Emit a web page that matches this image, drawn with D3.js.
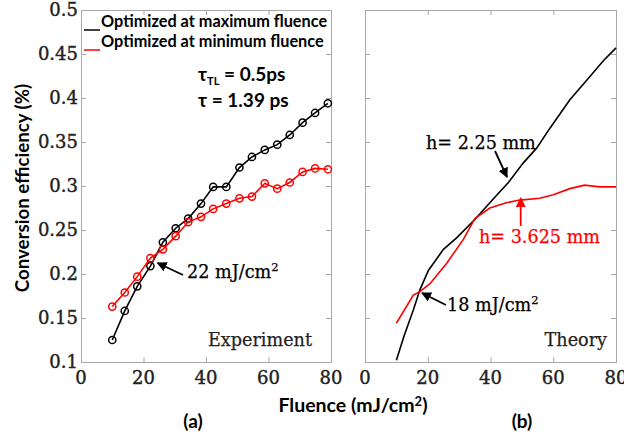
<!DOCTYPE html>
<html>
<head>
<meta charset="utf-8">
<script src="https://cdn.jsdelivr.net/npm/d3@7"></script>
<style>
  body { margin: 0; background: #fff; }
  svg { display: block; }
</style>
</head>
<body>
<svg id="chart" width="624" height="433"></svg>
<script>
// Experiment (a)
const expFluence = [10, 14, 18, 22.2, 26.2, 30.3, 34.3, 38.4, 42.3, 46.5, 50.7, 54.7, 58.8, 62.8, 66.8, 70.9, 74.9, 79];
const expMax = [0.125, 0.158, 0.186, 0.209, 0.236, 0.252, 0.263, 0.280, 0.299, 0.299, 0.321, 0.333, 0.341, 0.347, 0.358, 0.372, 0.383, 0.394];
const expMin = [0.163, 0.179, 0.197, 0.218, 0.228, 0.243, 0.259, 0.265, 0.274, 0.280, 0.286, 0.288, 0.303, 0.297, 0.304, 0.316, 0.320, 0.319];

// Theory (b)
const thMaxFluence = [10, 12.5, 15.4, 17.5, 20.2, 25, 29.2, 35, 40.8, 45.7, 50.4, 54.7, 59, 65.3, 70.6, 75.9, 80];
const thMax = [0.102, 0.130, 0.159, 0.182, 0.204, 0.228, 0.241, 0.262, 0.285, 0.304, 0.326, 0.343, 0.366, 0.398, 0.420, 0.442, 0.457];
const thMinFluence = [10, 15.4, 17.5, 20.7, 26, 31.3, 35, 39.8, 45, 49.4, 55.7, 60, 65.3, 70, 74.8, 80];
const thMin = [0.144, 0.176, 0.180, 0.189, 0.212, 0.239, 0.263, 0.275, 0.281, 0.284, 0.286, 0.290, 0.297, 0.301, 0.299, 0.299];

const xTicks = [0, 20, 40, 60, 80];
const yTicks = [0.1, 0.15, 0.2, 0.25, 0.3, 0.35, 0.4, 0.45, 0.5];
const legendLabels = ["Optimized at maximum fluence", "Optimized at minimum fluence"];
const colors = ["#000", "#ff0000"];

const svg = d3.select("#chart");
const serif = "'DejaVu Serif', serif";
const sans = "Lato, 'Open Sans', sans-serif";

const y = d3.scaleLinear().domain([0.1, 0.5]).range([362, 10]);
const xA = d3.scaleLinear().domain([0, 80]).range([81, 331]);
const xB = d3.scaleLinear().domain([0, 80]).range([365, 616]);

const defs = svg.append("defs");
[["arrowBlack", "#000"], ["arrowRed", "#ff0000"]].forEach(([id, c]) => {
  defs.append("marker")
    .attr("id", id)
    .attr("viewBox", "0 0 10 10")
    .attr("refX", 9).attr("refY", 5)
    .attr("markerWidth", 10).attr("markerHeight", 10)
    .attr("markerUnits", "userSpaceOnUse")
    .attr("orient", "auto")
    .append("path").attr("d", "M0,0 L10,5 L0,10 Z").attr("fill", c);
});

// Frame + inward ticks on all sides
function drawFrame(x) {
  const [x0, x1] = x.range();
  const [y0, y1] = y.range();
  const g = svg.append("g");
  const axes = [
    d3.axisBottom(x).tickValues(xTicks).tickSize(-5).tickFormat(""),
    d3.axisTop(x).tickValues(xTicks).tickSize(-5).tickFormat(""),
    d3.axisLeft(y).tickValues(yTicks).tickSize(-5).tickFormat(""),
    d3.axisRight(y).tickValues(yTicks).tickSize(-5).tickFormat("")
  ];
  const offsets = [`translate(0,${y0})`, `translate(0,${y1})`, `translate(${x0},0)`, `translate(${x1},0)`];
  axes.forEach((a, i) => {
    const ag = g.append("g").attr("transform", offsets[i]).call(a);
    ag.selectAll("path, line").attr("stroke", "#a8a8a8").attr("stroke-width", 1);
  });
  // x tick labels
  svg.append("g").selectAll("text").data(xTicks).join("text")
    .attr("x", d => x(d)).attr("y", 384)
    .attr("text-anchor", "middle")
    .style("font-family", serif).style("font-size", "18px")
    .attr("fill", "#222").attr("stroke", "#222").attr("stroke-width", 0.4)
    .text(d => d);
}
drawFrame(xA);
drawFrame(xB);

// y tick labels (left panel only)
svg.append("g").selectAll("text").data(yTicks).join("text")
  .attr("x", 78).attr("y", d => y(d) + 6)
  .attr("text-anchor", "end")
  .style("font-family", serif).style("font-size", "18px")
  .attr("fill", "#222").attr("stroke", "#222").attr("stroke-width", 0.4)
  .text(d => d);

const lineA = d3.line().x(d => xA(d[0])).y(d => y(d[1]));
const lineB = d3.line().x(d => xB(d[0])).y(d => y(d[1]));

// Experiment series
[expMax, expMin].forEach((vals, i) => {
  const pts = expFluence.map((f, j) => [f, vals[j]]);
  svg.append("path").datum(pts)
    .attr("d", lineA).attr("fill", "none")
    .attr("stroke", colors[i]).attr("stroke-width", 1.6);
  svg.append("g").selectAll("circle").data(pts).join("circle")
    .attr("cx", d => xA(d[0])).attr("cy", d => y(d[1])).attr("r", 3.6)
    .attr("fill", "none").attr("stroke", colors[i]).attr("stroke-width", 1.5);
});

// Theory series
[[thMaxFluence, thMax], [thMinFluence, thMin]].forEach(([fs, vals], i) => {
  const pts = fs.map((f, j) => [f, vals[j]]);
  svg.append("path").datum(pts)
    .attr("d", lineB).attr("fill", "none")
    .attr("stroke", colors[i]).attr("stroke-width", 1.6);
});

// Legend
legendLabels.forEach((label, i) => {
  const ly = 30 + i * 20;
  svg.append("line")
    .attr("x1", 84).attr("x2", 100).attr("y1", ly).attr("y2", ly)
    .attr("stroke", colors[i]).attr("stroke-width", 1.5);
  svg.append("text")
    .attr("x", 101).attr("y", ly - 3)
    .style("font-family", sans).style("font-size", "16.3px").style("font-weight", "bold")
    .attr("fill", "#000")
    .text(label);
});

// tau labels
const tau1 = svg.append("text").attr("x", 198).attr("y", 81)
  .style("font-family", sans).style("font-size", "19px").style("font-weight", "bold");
tau1.append("tspan").text("τ");
tau1.append("tspan").attr("dy", 4).style("font-size", "11px").text("TL");
tau1.append("tspan").attr("dy", -4).text(" = 0.5ps");
svg.append("text").attr("x", 198).attr("y", 107)
  .style("font-family", sans).style("font-size", "19px").style("font-weight", "bold")
  .text("τ = 1.39 ps");

// Annotations
function noteText(x, yy, base, sup, color) {
  const t = svg.append("text").attr("x", x).attr("y", yy)
    .style("font-family", serif).style("font-size", "17.6px")
    .attr("fill", color).attr("stroke", color).attr("stroke-width", 0.25);
  t.append("tspan").text(base);
  if (sup) t.append("tspan").attr("dy", -7).style("font-size", "11.5px").text(sup);
  return t;
}
function arrow(x1, y1, x2, y2, id, color) {
  svg.append("line")
    .attr("x1", x1).attr("y1", y1).attr("x2", x2).attr("y2", y2)
    .attr("stroke", color).attr("stroke-width", 1.8)
    .attr("marker-end", `url(#${id})`);
}

noteText(187, 278, "22 mJ/cm", "2", "#000");
arrow(183, 275, xA(24.5), 263, "arrowBlack", "#000");

noteText(426, 149, "h= 2.25 mm", null, "#000");
arrow(495, 151, 507, 177, "arrowBlack", "#000");

noteText(479, 243, "h= 3.625 mm", null, "#ff0000");
arrow(520.7, 226, 520.7, 198, "arrowRed", "#ff0000");

noteText(447, 311, "18 mJ/cm", "2", "#000");
arrow(446, 305, 422, 293, "arrowBlack", "#000");

noteText(312, 346, "Experiment", null, "#222").attr("text-anchor", "end");
noteText(607, 346, "Theory", null, "#222").attr("text-anchor", "end");

// Axis titles
svg.append("text")
  .attr("transform", "translate(29,188) rotate(-90)")
  .attr("text-anchor", "middle")
  .style("font-family", sans).style("font-size", "18.7px").style("font-weight", "bold")
  .text("Conversion efficiency (%)");

const fl = svg.append("text").attr("x", 353).attr("y", 412).attr("text-anchor", "middle")
  .style("font-family", sans).style("font-size", "19.5px").style("font-weight", "bold");
fl.append("tspan").text("Fluence (mJ/cm");
fl.append("tspan").attr("dy", -6).style("font-size", "13px").text("2");
fl.append("tspan").attr("dy", 6).text(")");

svg.append("text").attr("x", 193).attr("y", 428).attr("text-anchor", "middle")
  .style("font-family", sans).style("font-size", "19px").style("font-weight", "bold")
  .text("(a)");
svg.append("text").attr("x", 522).attr("y", 428).attr("text-anchor", "middle")
  .style("font-family", sans).style("font-size", "19px").style("font-weight", "bold")
  .text("(b)");
</script>
</body>
</html>
